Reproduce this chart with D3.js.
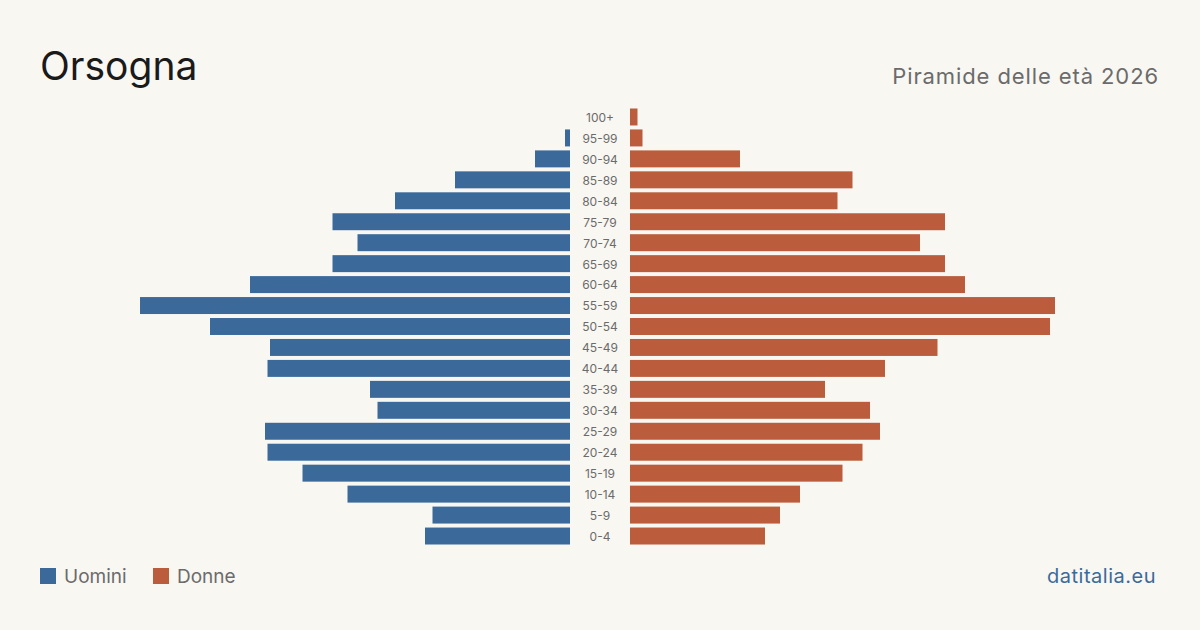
<!DOCTYPE html>
<html><head><meta charset="utf-8">
<script src="https://cdn.jsdelivr.net/npm/d3@7/dist/d3.min.js"></script>
<style>body{margin:0;background:#f9f7f2;}svg{display:block;font-family:Inter,"Noto Sans",sans-serif;}</style>
</head><body>
<svg id="c" width="1200" height="630"></svg>
<script>
const ages = ["100+","95-99","90-94","85-89","80-84","75-79","70-74","65-69","60-64","55-59","50-54","45-49","40-44","35-39","30-34","25-29","20-24","15-19","10-14","5-9","0-4"];
const men   = [0,2,14,46,70,95,85,95,128,172,144,120,121,80,77,122,121,107,89,55,58];
const women = [3,5,44,89,83,126,116,126,134,170,168,123,102,78,96,100,93,85,68,60,54];
const legendLabels = ["Uomini","Donne"];
const colors = {men:"#3b6a9a", women:"#bb5c3c"};

const svg = d3.select("#c");
svg.append("rect").attr("width",1200).attr("height",630).attr("fill","#f9f7f2");

const maxV = d3.max(men.concat(women));
const xL = d3.scaleLinear().domain([0,maxV]).range([570,140]);
const xR = d3.scaleLinear().domain([0,maxV]).range([630,1060]);
const y = d3.scaleBand().domain(ages).range([106.5,546.5]).paddingInner(0.19).paddingOuter(0.095);

svg.append("g").selectAll("rect").data(ages).join("rect")
  .attr("x",(d,i)=>xL(men[i])).attr("width",(d,i)=>xL(0)-xL(men[i]))
  .attr("y",d=>y(d)).attr("height",y.bandwidth()).attr("fill",colors.men);
svg.append("g").selectAll("text").data(ages).join("text");
svg.append("g").selectAll("rect").data(ages).join("rect")
  .attr("x",xR(0)).attr("width",(d,i)=>xR(women[i])-xR(0))
  .attr("y",d=>y(d)).attr("height",y.bandwidth()).attr("fill",colors.women);
svg.append("g").selectAll("text").data(ages).join("text")
  .attr("x",600).attr("y",d=>y(d)+y.bandwidth()/2+0.7).attr("dy","0.35em")
  .attr("text-anchor","middle").attr("font-size",12).attr("fill","#6b6b6b").text(d=>d);

svg.append("text").attr("x",40).attr("y",80).attr("font-size",39).attr("fill","#1a1a1a").text("Orsogna");
svg.append("text").attr("x",1159).attr("y",84).attr("text-anchor","end").attr("font-size",22).attr("letter-spacing",0.9).attr("fill","#6b6b6b").text("Piramide delle età 2026");

const lg = svg.append("g");
[[40,colors.men,legendLabels[0]],[153,colors.women,legendLabels[1]]].forEach(([x,c,t])=>{
  lg.append("rect").attr("x",x).attr("y",568).attr("width",16).attr("height",16).attr("fill",c);
  lg.append("text").attr("x",x+24).attr("y",583).attr("font-size",19).attr("fill","#6b6b6b").text(t);
});
svg.append("text").attr("x",1156).attr("y",583).attr("text-anchor","end").attr("font-size",20).attr("letter-spacing",0.5).attr("fill","#3b6a9a").text("datitalia.eu");
</script>
</body></html>
